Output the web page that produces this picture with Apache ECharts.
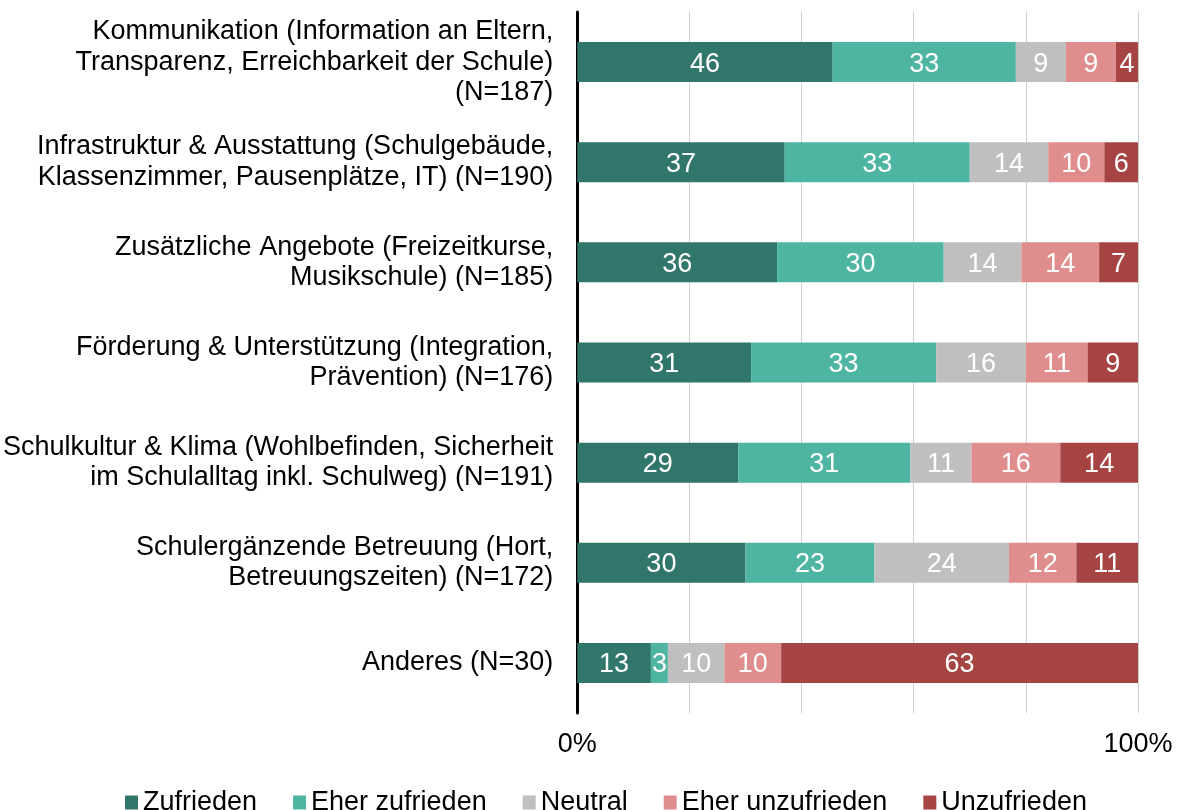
<!DOCTYPE html>
<html>
<head>
<meta charset="utf-8">
<script src="https://cdn.jsdelivr.net/npm/echarts@6/dist/echarts.min.js"></script>
<style>
  html, body { margin: 0; padding: 0; background: #fff; }
  #main { width: 1179px; height: 810px; }
</style>
</head>
<body>
<div id="main"></div>
<script>
// Kategorien (von oben nach unten)
var categories = [
  "Kommunikation (Information an Eltern,\nTransparenz, Erreichbarkeit der Schule)\n(N=187)",
  "Infrastruktur & Ausstattung (Schulgebäude,\nKlassenzimmer, Pausenplätze, IT) (N=190)",
  "Zusätzliche Angebote (Freizeitkurse,\nMusikschule) (N=185)",
  "Förderung & Unterstützung (Integration,\nPrävention) (N=176)",
  "Schulkultur & Klima (Wohlbefinden, Sicherheit\nim Schulalltag inkl. Schulweg) (N=191)",
  "Schulergänzende Betreuung (Hort,\nBetreuungszeiten) (N=172)",
  "Anderes (N=30)"
];

var seriesNames = ["Zufrieden", "Eher zufrieden", "Neutral", "Eher unzufrieden", "Unzufrieden"];

// Werte in Prozent (gerundet, wie beschriftet)
var zufrieden       = [46, 37, 36, 31, 29, 30, 13];
var eherZufrieden   = [33, 33, 30, 33, 31, 23, 3];
var neutral         = [9, 14, 14, 16, 11, 24, 10];
var eherUnzufrieden = [9, 10, 14, 11, 16, 12, 10];
var unzufrieden     = [4, 6, 7, 9, 14, 11, 63];

var xTickLabels = ["0%", "100%"];

var colors = ["#31766a", "#4db5a1", "#bfbfbf", "#e08d8d", "#a64444"];
var font = "Liberation Sans, Arial, sans-serif";

var allValues = [zufrieden, eherZufrieden, neutral, eherUnzufrieden, unzufrieden];

// Zeilensummen, damit jede Zeile auf 100% normiert wird
var rowSums = categories.map(function (c, i) {
  return allValues.reduce(function (s, arr) { return s + arr[i]; }, 0);
});

var myChart = echarts.init(document.getElementById("main"));

var series = allValues.map(function (arr, k) {
  return {
    name: seriesNames[k],
    type: "bar",
    stack: "total",
    barWidth: 40,
    itemStyle: { color: colors[k] },
    label: {
      show: true,
      position: "inside",
      color: "#fff",
      fontSize: 27,
      fontFamily: font,
      offset: [0, 2],
      formatter: function (p) { return arr[p.dataIndex]; }
    },
    data: arr.map(function (v, i) { return v / rowSums[i] * 100; })
  };
});

var option = {
  animation: false,
  grid: { left: 577, right: 41, top: 12, bottom: 97 },
  legend: {
    data: seriesNames,
    top: 784,
    left: 120,
    icon: "rect",
    itemWidth: 13,
    itemHeight: 14,
    itemGap: 36,
    textStyle: { fontSize: 27, color: "#000", fontFamily: font }
  },
  xAxis: {
    type: "value",
    min: 0,
    max: 100,
    interval: 20,
    axisLine: { show: false },
    axisTick: { show: false },
    splitLine: { lineStyle: { color: "#d0d0d0", width: 1 } },
    axisLabel: {
      fontSize: 27,
      color: "#000",
      margin: 18,
      fontFamily: font,
      formatter: function (v) {
        if (v === 0) return xTickLabels[0];
        if (v === 100) return xTickLabels[1];
        return "";
      }
    }
  },
  yAxis: {
    type: "category",
    inverse: true,
    data: categories,
    axisLine: { show: true, lineStyle: { color: "#000", width: 3 } },
    axisTick: { show: false },
    axisLabel: {
      fontSize: 27,
      lineHeight: 30.5,
      color: "#000",
      align: "right",
      margin: 24,
      fontFamily: font
    }
  },
  series: series
};

myChart.setOption(option);
</script>
</body>
</html>
